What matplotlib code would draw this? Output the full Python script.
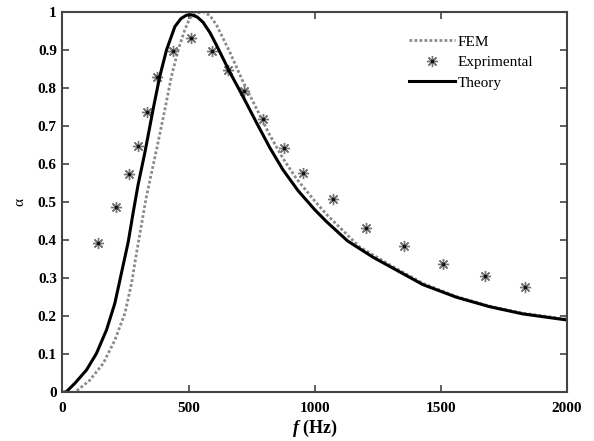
import matplotlib.pyplot as plt

# theory curve
f_theory = [0, 15, 50, 96, 135, 175, 208, 234, 261, 280, 300, 327, 360, 386, 413, 446, 470,
            492, 512, 535, 558, 585, 611, 663, 716, 769, 822, 874, 934, 1000, 1046, 1130,
            1231, 1297, 1429, 1561, 1693, 1825, 2000]
a_theory = [0, 0.001, 0.024, 0.059, 0.102, 0.164, 0.234, 0.313, 0.395, 0.47, 0.545, 0.63,
            0.745, 0.83, 0.90, 0.961, 0.982, 0.991, 0.992, 0.986, 0.972, 0.945, 0.912, 0.842,
            0.777, 0.709, 0.643, 0.585, 0.53, 0.48, 0.449, 0.398, 0.355, 0.331, 0.283, 0.25,
            0.225, 0.206, 0.19]

# FEM curve
f_fem = [0, 50, 109, 162, 208, 248, 274, 296, 333, 373, 406, 432, 459, 485, 505, 530, 558,
         585, 611, 663, 716, 769, 822, 874, 927, 1000, 1046, 1178, 1300, 1430, 1560, 1690,
         1825, 2000]
a_fem = [0, 0, 0.032, 0.076, 0.137, 0.208, 0.286, 0.374, 0.514, 0.637, 0.742, 0.829, 0.90,
         0.952, 0.983, 0.996, 1.0, 0.99, 0.965, 0.895, 0.816, 0.746, 0.676, 0.615, 0.562,
         0.503, 0.468, 0.382, 0.334, 0.286, 0.252, 0.227, 0.208, 0.192]

# experimental points
f_exp = [143, 214, 265, 301, 337, 376, 440, 511, 594, 657, 721, 796, 879, 954, 1073, 1204,
         1354, 1509, 1675, 1834]
a_exp = [0.392, 0.488, 0.574, 0.648, 0.736, 0.828, 0.896, 0.93, 0.898, 0.848, 0.791, 0.718,
         0.642, 0.577, 0.509, 0.433, 0.384, 0.337, 0.305, 0.277]

plt.rcParams['font.family'] = ['Liberation Serif', 'DejaVu Serif']
plt.rcParams['mathtext.fontset'] = 'custom'
plt.rcParams['mathtext.it'] = 'Liberation Serif:italic:bold'
plt.rcParams['mathtext.rm'] = 'Liberation Serif:bold'

fig = plt.figure(figsize=(5.94, 4.41), dpi=100)
ax = fig.add_axes([0.105, 0.1104, 0.8495, 0.863])

fem_line, = ax.plot(f_fem, a_fem, color='#8a8a8a', linestyle=(0, (1, 0.8)), linewidth=2.0)
exp_pts, = ax.plot(f_exp, a_exp, linestyle='none', marker=(8, 2, 0), markersize=8,
                   markeredgecolor='#777777', markeredgewidth=1.0)
exp_dot, = ax.plot(f_exp, a_exp, linestyle='none', marker='s', markersize=1.5,
                   color='#111111')
th_line, = ax.plot(f_theory, a_theory, color='black', linewidth=2.2)

ax.set_xlim(0, 2000)
ax.set_ylim(0, 1)
ax.set_xticks([0, 500, 1000, 1500, 2000])
ax.set_yticks([0, 0.1, 0.2, 0.3, 0.4, 0.5, 0.6, 0.7, 0.8, 0.9, 1])
ax.set_yticklabels(['0', '0.1', '0.2', '0.3', '0.4', '0.5', '0.6', '0.7', '0.8', '0.9', '1'])

ax.tick_params(direction='in', length=5, width=1.2, color='#444444', top=True, right=True,
               labelsize=11, pad=4)
ax.tick_params(axis='x', pad=7)
for lab in ax.get_xticklabels() + ax.get_yticklabels():
    lab.set_fontweight('bold')
for sp in ax.spines.values():
    sp.set_color('#444444')
    sp.set_linewidth(1.5)

ax.set_xlabel(r'$\mathit{f}$ (Hz)', fontsize=13, fontweight='bold', labelpad=2)
ax.set_ylabel('α', fontsize=11, labelpad=8)

ax.legend([fem_line, (exp_pts, exp_dot), th_line], ['FEM', 'Exprimental', 'Theory'],
          loc='upper left', bbox_to_anchor=(0.675, 0.955), frameon=False, fontsize=11,
          handlelength=3.0, handletextpad=0.2, labelspacing=0.45, borderaxespad=0)

fig.savefig('out.png', dpi=100)
